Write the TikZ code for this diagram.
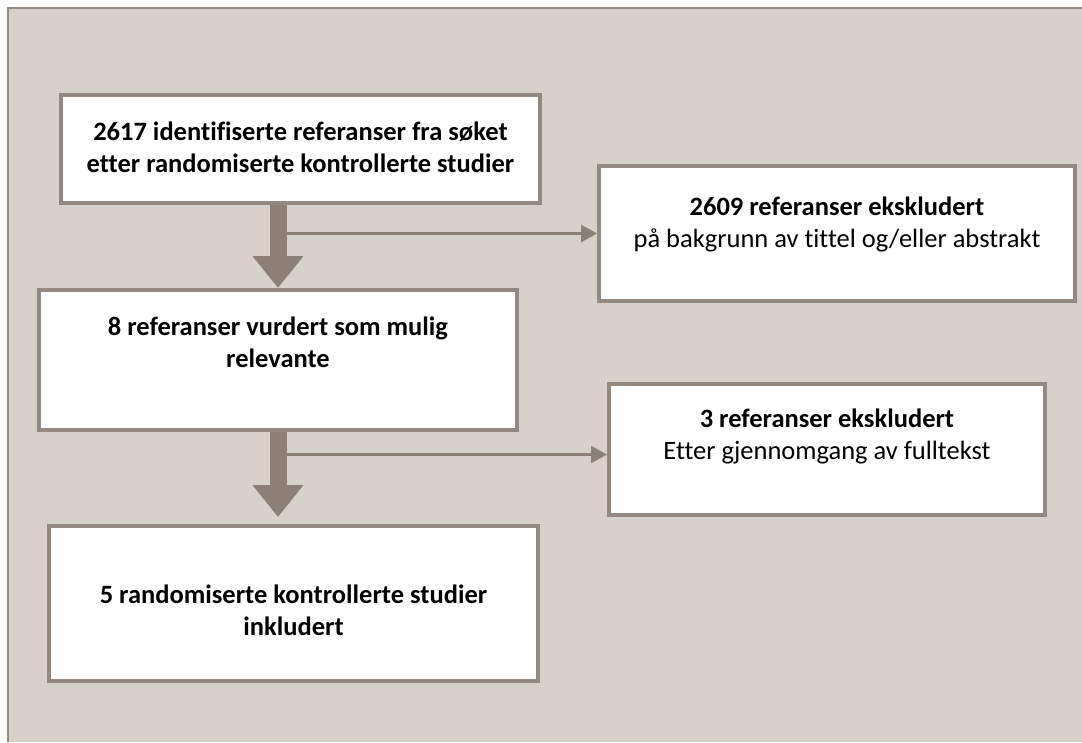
\documentclass[tikz,border=0pt]{standalone}
\usepackage{fontspec}
\setmainfont{Carlito}[Ligatures=NoCommon]
\usetikzlibrary{arrows.meta}
\definecolor{paper}{RGB}{216,209,202}
\definecolor{taupe}{RGB}{139,127,118}
\definecolor{boxline}{RGB}{147,137,129}
\tikzset{
  box/.style={draw=boxline, line width=4pt, fill=white, align=center, inner sep=0pt,
    text height=64pt, font=\fontsize{26.5}{32}\selectfont},
  bigarrow/.style={draw=taupe, line width=17pt, -{Triangle[length=32pt,width=49pt]}},
  smallarrow/.style={draw=taupe, line width=2.5pt, -{Triangle[length=16pt,width=17pt]}}
}

\begin{document}
\begin{tikzpicture}[x=1pt,y=-1pt]
\useasboundingbox (0,0) rectangle (1082,742);
\fill[paper] (8,8) rectangle (1082,742);
\draw[boxline, line width=2pt] (1082,8) -- (8,8) -- (8,742);
% boxes
\node[box, minimum width=479pt, minimum height=108pt, text depth=18pt] (found) at (300.5,149)
  {\textbf{2617 identifiserte referanser fra søket}\\ \textbf{etter randomiserte kontrollerte studier}};
\node[box, minimum width=476pt, minimum height=135pt, text depth=37pt] (excl1) at (837,233.5)
  {\textbf{2609 referanser ekskludert}\\ på bakgrunn av tittel og/eller abstrakt};
\node[box, minimum width=478pt, minimum height=140pt, text depth=50pt] (relevant) at (278,360)
  {\textbf{8 referanser vurdert som mulig}\\ \textbf{relevante}};
\node[box, minimum width=436pt, minimum height=131pt, text depth=45pt] (excl2) at (827,449.5)
  {\textbf{3 referanser ekskludert}\\ Etter gjennomgang av fulltekst};
\node[box, minimum width=489pt, minimum height=155pt, text depth=0pt] (included) at (293.5,603.5)
  {\textbf{5 randomiserte kontrollerte studier}\\ \textbf{inkludert}};
% arrows
\draw[smallarrow] (excl1.west -| relevant.north) -- (excl1.west);
\draw[smallarrow] ([yshift=-5pt]excl2.west -| relevant.south) -- ([yshift=-5pt]excl2.west);
\draw[bigarrow] (found.south -| relevant.north) -- (relevant.north);
\draw[bigarrow] (relevant.south) -- ([yshift=7pt]included.north -| relevant.south);
\end{tikzpicture}
\end{document}
